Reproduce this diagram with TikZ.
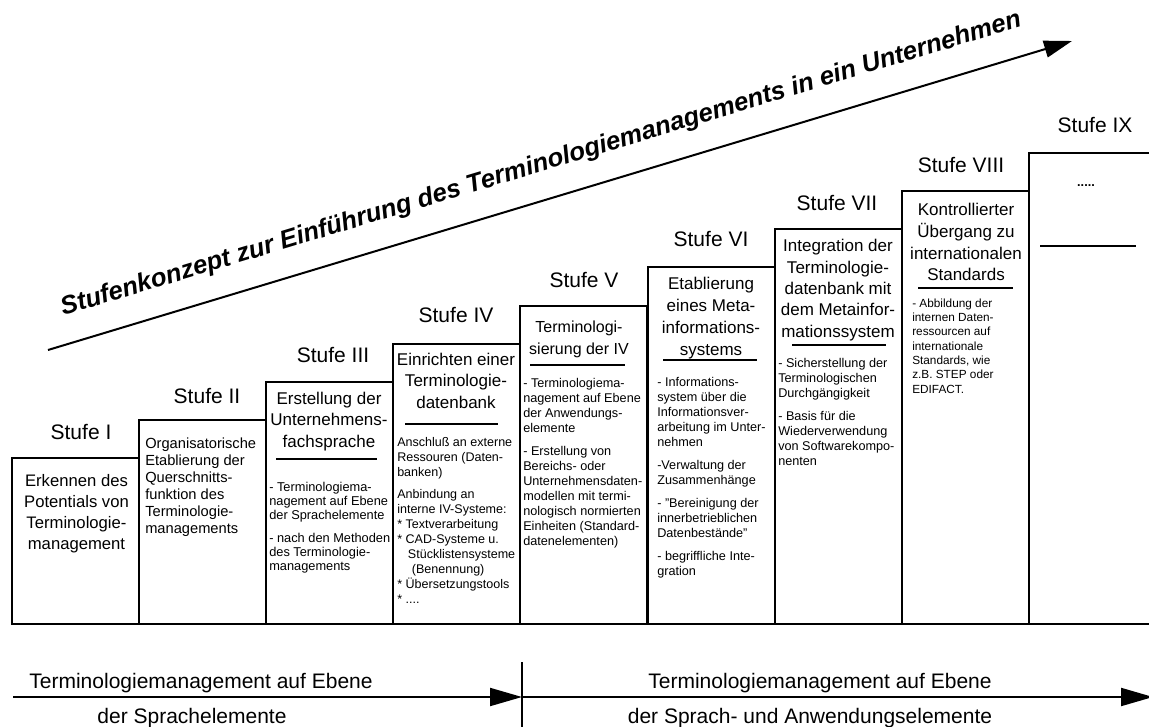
\documentclass[tikz,border=0pt]{standalone}
\usepackage{fontspec}
\setmainfont{Liberation Sans}
\usetikzlibrary{positioning,arrows.meta}

\begin{document}
\begin{tikzpicture}[
  x=0.75pt, y=-0.75pt,
  stufe/.style={draw,line width=1.5pt,anchor=north west,inner sep=0pt,outer sep=0pt,minimum width=95.3pt},
  stufenr/.style={anchor=base,inner sep=0pt,font=\fontsize{15.75}{18}\selectfont},
  kopf/.style={anchor=north,align=center,inner sep=0pt,font=\fontsize{12.75}{16}\selectfont},
  inhalt/.style={anchor=north west,align=left,inner sep=0pt,font=\fontsize{9.5}{11.25}\selectfont},
  trenner/.style={line width=1.5pt},
  ebene/.style={anchor=base,inner sep=0pt,font=\fontsize{15.75}{18}\selectfont},
  pfeil/.style={line width=1.5pt,-{Triangle[length=24pt,width=13.5pt]}},
  hauptpfeil/.style={line width=1.5pt,-{Triangle[length=21pt,width=12.75pt]}}
]
\useasboundingbox[fill=white] (0,0) rectangle (1149,727);

% Leitpfeil mit Thema
\coordinate (start) at (48,350);
\coordinate (ziel)  at (1072,41);
\draw[hauptpfeil] (start) -- (ziel);
\node[anchor=base,inner sep=0pt,rotate=16.8,
      font=\fontsize{19.2}{22}\selectfont\bfseries\itshape] (thema) at (543,171)
  {Stufenkonzept zur Einführung des Terminologiemanagements in ein Unternehmen};

% Stufen (Treppe)
\node[stufe,minimum height=124.5pt] (box1) at (12,458)    {};
\node[stufe,minimum height=153.1pt] (box2) at (139.1,419.9) {};
\node[stufe,minimum height=181.65pt] (box3) at (266.2,381.8) {};
\node[stufe,minimum height=210.2pt] (box4) at (393.3,343.7) {};
\node[stufe,minimum height=238.8pt] (box5) at (520.4,305.6) {};
\node[stufe,minimum height=267.4pt] (box6) at (647.5,267.5) {};
\node[stufe,minimum height=295.95pt] (box7) at (774.6,229.4) {};
\node[stufe,minimum height=324.5pt] (box8) at (901.7,191.3) {};
\node[stufe,minimum height=353.1pt,minimum width=98.25pt] (box9) at (1028.8,153.2) {};

% Stufennummern
\node[stufenr] (nr1) at (81,439.5)  {Stufe I};
\node[stufenr] (nr2) at (207,403.5) {Stufe II};
\node[stufenr] (nr3) at (333,362.5) {Stufe III};
\node[stufenr] (nr4) at (456,322.5) {Stufe IV};
\node[stufenr] (nr5) at (584,287.5) {Stufe V};
\node[stufenr] (nr6) at (711,246.5) {Stufe VI};
\node[stufenr] (nr7) at (837,210.5) {Stufe VII};
\node[stufenr] (nr8) at (961,172.5) {Stufe VIII};
\node[stufenr] (nr9) at (1095,132.5) {Stufe IX};

% Stufe I und II
\node[kopf,font=\fontsize{12.5}{15.75}\selectfont] (kopf1) at (76.5,474)
  {Erkennen des\\Potentials von\\Terminologie-\\management};
\node[kopf,anchor=north west,align=left,font=\fontsize{11}{12.75}\selectfont] (kopf2) at (145,437.7)
  {Organisatorische\\Etablierung der\\Querschnitts-\\funktion des\\Terminologie-\\managements};

% Stufe III
\node[kopf] (kopf3) at (329,392) {Erstellung der\\Unternehmens-\\fachsprache};
\draw[trenner] (276,459) -- (377,459);
\node[inhalt,font=\fontsize{9.6}{10.5}\selectfont] (text3) at (269,481.5)
  {- Terminologiema-\\nagement auf Ebene\\der Sprachelemente\\[6.75pt]- nach den Methoden\\des Terminologie-\\managements};

% Stufe IV
\node[kopf] (kopf4) at (456,353) {Einrichten einer\\Terminologie-\\datenbank};
\draw[trenner] (405,424) -- (498,424);
\node[inhalt,font=\fontsize{9.4}{11.25}\selectfont] (text4) at (397,437.5)
  {Anschluß an externe\\Ressouren (Daten-\\banken)\\[5.25pt]Anbindung an\\interne IV-Systeme:\\* Textverarbeitung\\* CAD-Systeme u.\\\hspace*{8pt}Stücklistensysteme\\\hspace*{11pt}(Benennung)\\* Übersetzungstools\\* ....};

% Stufe V
\node[kopf,font=\fontsize{12}{16.5}\selectfont] (kopf5) at (579,321) {Terminologi-\\sierung der IV};
\draw[trenner] (530,365) -- (625,365);
\node[inhalt] (text5) at (523,378.5)
  {- Terminologiema-\\nagement auf Ebene\\der Anwendungs-\\elemente\\[6pt]- Erstellung von\\Bereichs- oder\\Unternehmensdaten-\\modellen mit termi-\\nologisch normierten\\Einheiten (Standard-\\datenelementen)};

% Stufe VI
\node[kopf,font=\fontsize{12.75}{16.5}\selectfont] (kopf6) at (711,277) {Etablierung\\eines Meta-\\informations-\\systems};
\draw[trenner] (663,360) -- (757,360);
\node[inhalt] (text6) at (657,377.5)
  {- Informations-\\system über die\\Informationsver-\\arbeitung im Unter-\\nehmen\\[6pt]-Verwaltung der\\Zusammenhänge\\[6pt]- "Bereinigung der\\innerbetrieblichen\\Datenbestände"\\[6pt]- begriffliche Inte-\\gration};

% Stufe VII
\node[kopf,font=\fontsize{12.75}{16.1}\selectfont] (kopf7) at (838,239) {Integration der\\Terminologie-\\datenbank mit\\dem Metainfor-\\mationssystem};
\draw[trenner] (792,345) -- (886,345);
\node[inhalt] (text7) at (778,358.5)
  {- Sicherstellung der\\Terminologischen\\Durchgängigkeit\\[6pt]- Basis für die\\Wiederverwendung\\von Softwarekompo-\\nenten};

% Stufe VIII
\node[kopf,font=\fontsize{12.75}{16.3}\selectfont] (kopf8) at (966,203) {Kontrollierter\\Übergang zu\\internationalen\\Standards};
\draw[trenner] (918,288) -- (1013,288);
\node[inhalt,font=\fontsize{8.85}{10.75}\selectfont] (text8) at (912,298.5)
  {- Abbildung der\\internen Daten-\\ressourcen auf\\internationale\\Standards, wie\\z.B. STEP oder\\EDIFACT.};

% Stufe IX
\node[inner sep=0pt,font=\fontsize{9.5}{11}\selectfont\bfseries] (kopf9) at (1086,186) {.....};
\draw[trenner] (1040,246) -- (1136,246);

% Ebenen unten
\coordinate (links)  at (13,697);
\coordinate (mitte)  at (522,697);
\coordinate (rechts) at (1153,697);
\coordinate (teiloben) at (522,662);
\coordinate (teilunten) at (522,730);
\draw[pfeil] (links) -- (mitte);
\draw[pfeil] (mitte) -- (rechts);
\draw[line width=1.5pt] (teiloben) -- (teilunten);

\node[ebene] (ebene1a) at (201,688.5) {Terminologiemanagement auf Ebene};
\node[ebene] (ebene1b) at (192,723.5) {der Sprachelemente};
\node[ebene] (ebene2a) at (820,688.5) {Terminologiemanagement auf Ebene};
\node[ebene] (ebene2b) at (810,723.5) {der Sprach- und Anwendungselemente};
\end{tikzpicture}
\end{document}
